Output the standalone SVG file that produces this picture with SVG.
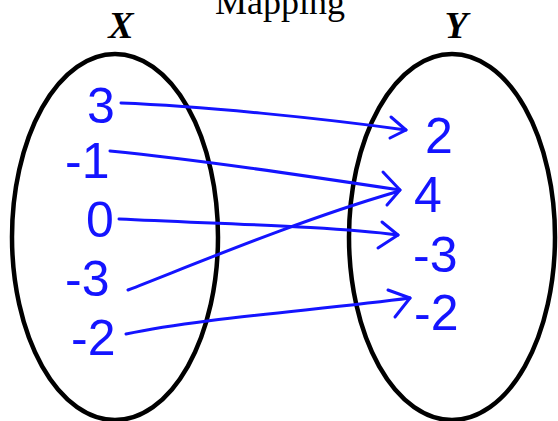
<svg xmlns="http://www.w3.org/2000/svg" width="558" height="421" viewBox="0 0 558 421">
<style>
.set{fill:none;stroke:#000;stroke-width:4.5}
.title{font-family:"Liberation Serif",serif;font-size:36px;fill:#000;text-anchor:middle}
.lab{font-family:"Liberation Serif",serif;font-size:38px;font-weight:bold;font-style:italic;fill:#000;text-anchor:middle}
.num{font-family:"Liberation Sans",sans-serif;font-size:50px;fill:#1414ff}
.arr{fill:none;stroke:#1414ff;stroke-width:3;stroke-linecap:round;stroke-linejoin:round}
</style>
<rect width="558" height="421" fill="#fff"/>
<text class="title" x="280" y="14">Mapping</text>
<g id="setX">
<ellipse class="set" cx="115" cy="237" rx="103" ry="183"/>
<text class="lab" x="121" y="38">X</text>
</g>
<g id="setY">
<ellipse class="set" cx="452" cy="237" rx="103" ry="183"/>
<text class="lab" x="456" y="38">Y</text>
</g>
<g id="x3"><text class="num" x="87" y="123">3</text></g>
<g id="xm1"><text class="num" x="65" y="178">-1</text></g>
<g id="x0"><text class="num" x="86" y="237">0</text></g>
<g id="xm3"><text class="num" x="65" y="296">-3</text></g>
<g id="xm2"><text class="num" x="71" y="355">-2</text></g>
<g id="y2"><text class="num" x="425" y="153">2</text></g>
<g id="y4"><text class="num" x="414" y="212">4</text></g>
<g id="ym3"><text class="num" x="413" y="272">-3</text></g>
<g id="ym2"><text class="num" x="414" y="330">-2</text></g>
<g id="connectors">
<path class="arr" d="M121,103 C200,106 320,118 406,130"/>
<path class="arr" d="M391,117 L406,130 L390,138"/>
<path class="arr" d="M110,151 C200,160 300,175 400,190"/>
<path class="arr" d="M383,172 L400,190 L387,205"/>
<path class="arr" d="M119,219 C220,224 330,226 398,235"/>
<path class="arr" d="M382,222 L398,235 L378,248"/>
<path class="arr" d="M128,290 C200,262 300,220 396,192"/>
<path class="arr" d="M126,334 C200,318 320,310 410,298"/>
<path class="arr" d="M388,290 L410,298 L395,317"/>
</g>
</svg>
